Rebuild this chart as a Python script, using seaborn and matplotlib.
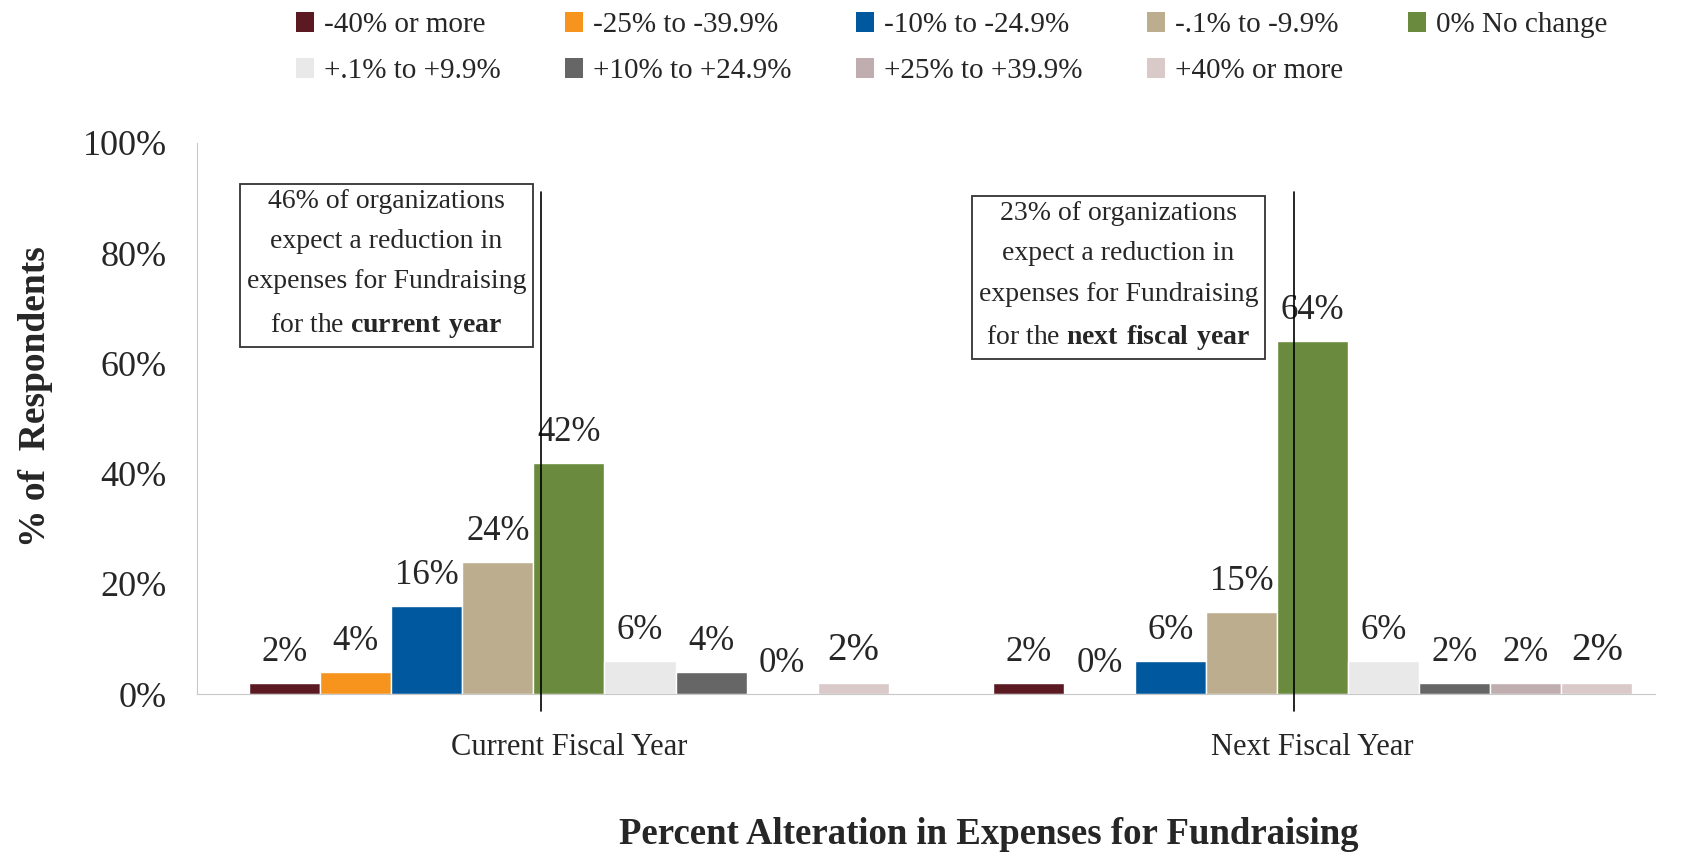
import numpy as np
import pandas as pd
import seaborn as sns
import matplotlib.pyplot as plt
from matplotlib.patches import Patch

# data
periods = ["Current Fiscal Year", "Next Fiscal Year"]
changes = ["-40% or more", "-25% to -39.9%", "-10% to -24.9%", "-.1% to -9.9%", "0% No change",
           "+.1% to +9.9%", "+10% to +24.9%", "+25% to +39.9%", "+40% or more"]
current_year = [2, 4, 16, 24, 42, 6, 4, 0, 2]
next_year = [2, 0, 6, 15, 64, 6, 2, 2, 2]
colors = ["#5b1a22", "#f7941d", "#00589f", "#bcad8e", "#6a8b3d",
          "#e9e9e9", "#666666", "#bfadaf", "#d9c9c9"]
notes = ["46% of organizations\nexpect a reduction in\nexpenses for Fundraising\nfor the $\\mathbf{current\\ year}$",
         "23% of organizations\nexpect a reduction in\nexpenses for Fundraising\nfor the $\\mathbf{next\\ fiscal\\ year}$"]
divider_x = [-0.038, 0.975]

df = pd.DataFrame({
    "period": np.repeat(periods, len(changes)),
    "change": changes * len(periods),
    "value": current_year + next_year,
})

sns.set_style("white")
plt.rcParams['font.family'] = ['Liberation Serif', 'DejaVu Serif']
plt.rcParams['mathtext.fontset'] = 'custom'
plt.rcParams['mathtext.rm'] = 'Liberation Serif'
plt.rcParams['mathtext.bf'] = 'Liberation Serif:bold'

fig = plt.figure(figsize=(16.85, 8.55), dpi=100)
ax = fig.add_axes([0.117, 0.188, 0.865, 0.645])

sns.barplot(data=df, x="period", y="value", hue="change", hue_order=changes,
            palette=colors, width=0.86, saturation=1, errorbar=None, ax=ax, legend=False)

# value labels, last series a bit bigger like in the original
for i, cont in enumerate(ax.containers):
    vals = [current_year[i], next_year[i]]
    ax.bar_label(cont, labels=[f"{v}%" for v in vals], padding=10,
                 fontsize=28 if i == len(changes) - 1 else 25)

ax.set_ylim(0, 100)
ax.set_xlim(-0.5, 1.46)
ax.set_yticks(range(0, 101, 20))
ax.set_yticklabels([f"{t}%" for t in range(0, 101, 20)], fontsize=26)
ax.tick_params(axis="x", labelsize=22, pad=28, length=0)
ax.tick_params(axis="y", length=0, pad=22)
ax.set_xlabel("Percent Alteration in Expenses for Fundraising", fontsize=26.5, fontweight="bold")
ax.set_ylabel("% of  Respondents", fontsize=27, fontweight="bold")
ax.xaxis.set_label_coords(0.543, -0.222)
ax.yaxis.set_label_coords(-0.099, 0.54)

for side in ["top", "right"]:
    ax.spines[side].set_visible(False)
for side in ["left", "bottom"]:
    ax.spines[side].set_color("#c8c8c8")

# divider lines and callout boxes
for x in divider_x:
    ax.plot([x, x], [-3, 91], color="black", lw=1.2, clip_on=False, zorder=5)

box = dict(boxstyle="square,pad=0.25", fc="white", ec="#333333", lw=1.3)
ax.text(0.13, 0.78, notes[0], transform=ax.transAxes, ha="center", va="center",
        fontsize=20, linespacing=1.8, bbox=box, zorder=6)
ax.text(0.632, 0.757, notes[1], transform=ax.transAxes, ha="center", va="center",
        fontsize=20, linespacing=1.8, bbox=box, zorder=6)

# legend filled row by row like the original
order = [0, 5, 1, 6, 2, 7, 3, 8, 4]
handles = [Patch(facecolor=colors[k], edgecolor="none") for k in order]
labels = [changes[k] for k in order]
fig.legend(handles, labels, loc="upper left", bbox_to_anchor=(0.167, 1.003), ncol=5,
           frameon=False, fontsize=21, handlelength=0.62, handleheight=0.68,
           handletextpad=0.35, columnspacing=2.2, labelspacing=0.68, borderpad=0)

fig.savefig("out.png", dpi=100)
